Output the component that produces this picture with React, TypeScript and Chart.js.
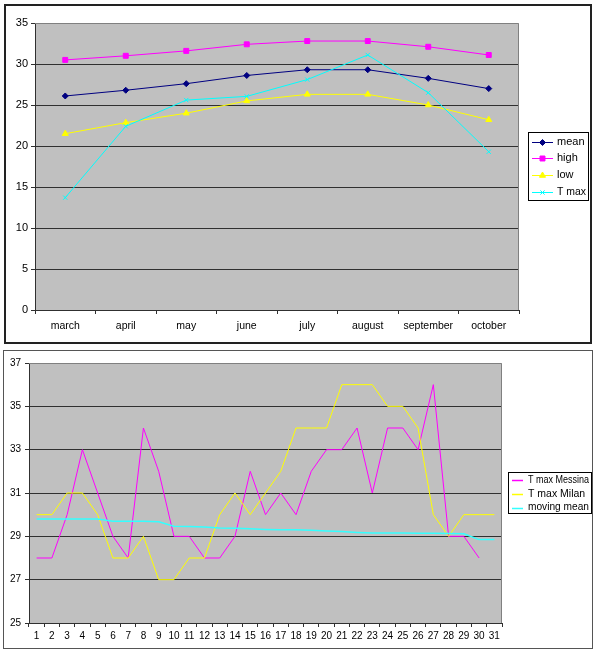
import React, { useEffect, useRef } from 'react';
import { Chart, registerables } from 'chart.js';
import { drawPoint } from 'chart.js/helpers';

Chart.register(...registerables);

// ---- Top chart data ----
const months = ['march', 'april', 'may', 'june', 'july', 'august', 'september', 'october'];
const meanT = [26.1, 26.8, 27.6, 28.6, 29.3, 29.3, 28.25, 27.0];
const highT = [30.5, 31.0, 31.6, 32.4, 32.8, 32.8, 32.1, 31.1];
const lowT = [21.5, 22.85, 24.0, 25.5, 26.3, 26.3, 25.0, 23.2];
const tMaxMonthly = [13.7, 22.4, 25.6, 26.05, 28.1, 31.1, 26.5, 19.3];

// ---- Bottom chart data ----
const days = ['1', '2', '3', '4', '5', '6', '7', '8', '9', '10', '11', '12', '13', '14', '15', '16',
  '17', '18', '19', '20', '21', '22', '23', '24', '25', '26', '27', '28', '29', '30', '31'];
const messina = [28, 28, 30, 33, 31, 29, 28, 34, 32, 29, 29, 28, 28, 29, 32, 30, 31, 30, 32, 33, 33, 34,
  31, 34, 34, 33, 36, 29, 29, 28, null];
const milan = [30, 30, 31, 31, 30, 28, 28, 29, 27, 27, 28, 28, 30, 31, 30, 31, 32, 34, 34, 34, 36, 36, 36,
  35, 35, 34, 30, 29, 30, 30, 30];
const movingMean = [29.8, 29.8, 29.8, 29.8, 29.8, 29.7, 29.7, 29.7, 29.67, 29.47, 29.45, 29.43, 29.38,
  29.37, 29.35, 29.32, 29.3, 29.3, 29.28, 29.25, 29.22, 29.18, 29.15, 29.15, 29.15, 29.14, 29.14, 29.13,
  29.12, 28.85, 28.85];

const FONT = '"Liberation Sans", Arial, Helvetica, sans-serif';
Chart.defaults.font.family = FONT;
Chart.defaults.color = '#000';

const plotArea = {
  id: 'plotArea',
  beforeDraw(chart: any) {
    const { ctx, chartArea: a } = chart;
    ctx.save();
    ctx.fillStyle = '#c0c0c0';
    ctx.fillRect(a.left, a.top, a.right - a.left, a.bottom - a.top);
    ctx.restore();
  },
  beforeDatasetsDraw(chart: any) {
    const { ctx, chartArea: a } = chart;
    ctx.save();
    ctx.strokeStyle = '#808080';
    ctx.lineWidth = 1;
    ctx.beginPath();
    ctx.moveTo(Math.round(a.left), Math.round(a.top) + 0.5);
    ctx.lineTo(Math.round(a.right) - 0.5, Math.round(a.top) + 0.5);
    ctx.lineTo(Math.round(a.right) - 0.5, Math.round(a.bottom));
    ctx.stroke();
    ctx.restore();
  },
};

const boxLegend = {
  id: 'boxLegend',
  afterDraw(chart: any, _args: any, opts: any) {
    if (!opts || !opts.box) return;
    const ctx = chart.ctx;
    const { x, y, w, h } = opts.box;
    ctx.save();
    ctx.fillStyle = '#fff';
    ctx.fillRect(x, y, w, h);
    ctx.strokeStyle = '#000';
    ctx.lineWidth = 1;
    ctx.strokeRect(x + 0.5, y + 0.5, w - 1, h - 1);
    ctx.font = `${opts.fontSize}px ${FONT}`;
    ctx.textBaseline = 'middle';
    ctx.textAlign = 'left';
    const maxW = x + w - opts.textX - 3;
    chart.data.datasets.forEach((ds: any, i: number) => {
      const cy = opts.firstY + i * opts.rowH;
      const ly = Math.round(cy) + 0.5;
      ctx.strokeStyle = ds.borderColor;
      ctx.lineWidth = opts.lineWidth || 1;
      ctx.beginPath();
      ctx.moveTo(opts.x1, ly);
      ctx.lineTo(opts.x2, ly);
      ctx.stroke();
      if (ds.pointStyle && ds.pointRadius) {
        ctx.fillStyle = ds.pointBackgroundColor;
        ctx.strokeStyle = ds.pointBorderColor;
        ctx.lineWidth = 1;
        drawPoint(ctx, { pointStyle: ds.pointStyle, radius: ds.pointRadius, borderWidth: 1, rotation: 0 } as any,
          (opts.x1 + opts.x2) / 2, ly);
      }
      ctx.fillStyle = '#000';
      ctx.fillText(ds.label, opts.textX, cy, maxW);
    });
    ctx.restore();
  },
};

const GRID = '#303030';

function lineDs(label: string, data: any[], color: string, style: any, radius: number, order: number, width = 1) {
  return {
    label,
    data,
    borderColor: color,
    backgroundColor: color,
    borderWidth: width,
    pointStyle: style,
    pointRadius: radius,
    pointBackgroundColor: color,
    pointBorderColor: color,
    pointBorderWidth: 1,
    tension: 0,
    fill: false,
    order,
  };
}

function TopChart() {
  const ref = useRef<HTMLCanvasElement>(null);
  useEffect(() => {
    const chart = new Chart(ref.current as HTMLCanvasElement, {
      type: 'line',
      data: {
        labels: months,
        datasets: [
          lineDs('mean', meanT, '#000080', 'rectRot', 3, 4),
          lineDs('high', highT, '#ff00ff', 'rect', 3.5, 3),
          lineDs('low', lowT, '#ffff00', 'triangle', 3.5, 2),
          lineDs('T max', tMaxMonthly, '#00ffff', 'crossRot', 3, 1),
        ] as any,
      },
      options: {
        responsive: false,
        animation: false,
        devicePixelRatio: 1,
        layout: { padding: { left: 0, top: 17, right: 71, bottom: 0 } },
        plugins: {
          legend: { display: false },
          tooltip: { enabled: false },
          boxLegend: {
            box: { x: 522, y: 126, w: 61, h: 69 },
            firstY: 135.7,
            rowH: 16.67,
            x1: 526,
            x2: 547,
            textX: 551,
            fontSize: 11,
            lineWidth: 1,
          },
        } as any,
        scales: {
          x: {
            type: 'category',
            offset: true,
            grid: { offset: true, drawOnChartArea: false, drawTicks: true, tickLength: 4, tickColor: GRID },
            border: { color: GRID, width: 1 },
            ticks: { font: { size: 10.5 }, padding: 6, maxRotation: 0, autoSkip: false, color: '#000' },
            afterFit: (s: any) => { s.height = 32; },
          },
          y: {
            min: 0,
            max: 35,
            ticks: { stepSize: 5, font: { size: 11 }, padding: 3, color: '#000' },
            grid: {
              color: (c: any) => (c.tick && c.tick.value === 35 ? 'rgba(0,0,0,0)' : GRID),
              lineWidth: 1,
              tickLength: 4,
              tickColor: GRID,
            },
            border: { color: GRID, width: 1 },
            afterFit: (s: any) => { s.width = 29; },
          },
        },
      } as any,
      plugins: [plotArea, boxLegend],
    });
    return () => chart.destroy();
  }, []);
  return <canvas ref={ref} width={584} height={336} style={{ display: 'block', width: 584, height: 336 }} />;
}

function BottomChart() {
  const ref = useRef<HTMLCanvasElement>(null);
  useEffect(() => {
    const chart = new Chart(ref.current as HTMLCanvasElement, {
      type: 'line',
      data: {
        labels: days,
        datasets: [
          lineDs('T max Messina', messina, '#ff00ff', false, 0, 3),
          lineDs('T max Milan', milan, '#ffff00', false, 0, 2),
          lineDs('moving mean', movingMean, '#33ffff', false, 0, 1, 1.5),
        ] as any,
      },
      options: {
        responsive: false,
        animation: false,
        devicePixelRatio: 1,
        layout: { padding: { left: 0, top: 12, right: 90, bottom: 0 } },
        elements: { point: { radius: 0 } },
        plugins: {
          legend: { display: false },
          tooltip: { enabled: false },
          boxLegend: {
            box: { x: 504, y: 121, w: 84, h: 42 },
            firstY: 129,
            rowH: 13.8,
            x1: 508,
            x2: 519,
            textX: 524,
            fontSize: 10.5,
            lineWidth: 1.5,
          },
        } as any,
        scales: {
          x: {
            type: 'category',
            offset: true,
            grid: { offset: true, drawOnChartArea: false, drawTicks: true, tickLength: 4, tickColor: GRID },
            border: { color: GRID, width: 1 },
            ticks: { font: { size: 10 }, padding: 3, maxRotation: 0, autoSkip: false, color: '#000' },
            afterFit: (s: any) => { s.height = 25; },
          },
          y: {
            min: 25,
            max: 37,
            ticks: { stepSize: 2, font: { size: 10 }, padding: 4, color: '#000' },
            grid: {
              color: (c: any) => (c.tick && c.tick.value === 37 ? 'rgba(0,0,0,0)' : GRID),
              lineWidth: 1,
              tickLength: 4,
              tickColor: GRID,
            },
            border: { color: GRID, width: 1 },
            afterFit: (s: any) => { s.width = 25; },
          },
        },
      } as any,
      plugins: [plotArea, boxLegend],
    });
    return () => chart.destroy();
  }, []);
  return <canvas ref={ref} width={588} height={297} style={{ display: 'block', width: 588, height: 297 }} />;
}

export default function App() {
  return (
    <div style={{ position: 'absolute', left: 0, top: 0, width: 600, height: 654, background: '#fff' }}>
      <div style={{ position: 'absolute', left: 4, top: 4, width: 588, height: 340, border: '2px solid #222', boxSizing: 'border-box' }}>
        <TopChart />
      </div>
      <div style={{ position: 'absolute', left: 3, top: 350, width: 590, height: 299, border: '1px solid #555', boxSizing: 'border-box' }}>
        <BottomChart />
      </div>
    </div>
  );
}
